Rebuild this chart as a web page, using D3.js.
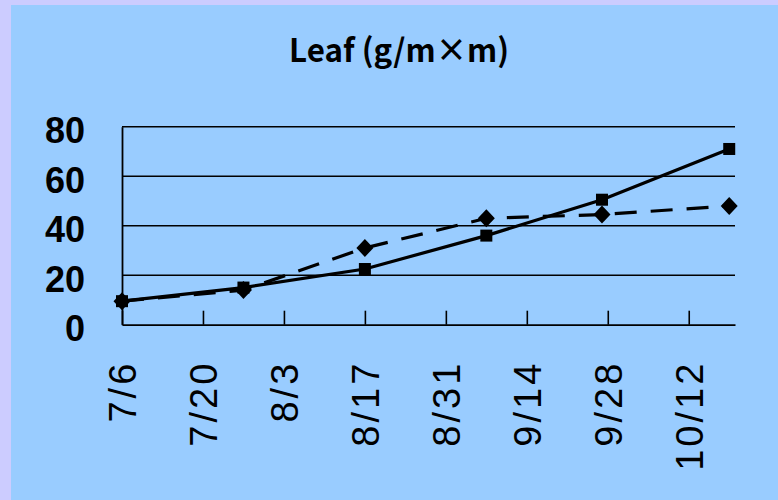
<!DOCTYPE html>
<html>
<head>
<meta charset="utf-8">
<script src="https://cdn.jsdelivr.net/npm/d3@7"></script>
<style>
  html, body { margin: 0; padding: 0; background: #ccccff; }
  svg { display: block; }
</style>
</head>
<body>
<svg id="chart" width="778" height="500"></svg>
<script>
// Sampling dates and leaf biomass (g/m×m) for two plots
const sampleDates = ["7/6", "7/27", "8/17", "9/7", "9/27", "10/19"];
const seriesSolid = [9.5, 15, 22.5, 36, 50.5, 71];
const seriesDashed = [9.5, 14, 31, 43, 44.5, 48];

// Axis settings
const tickLabels = ["7/6", "7/20", "8/3", "8/17", "8/31", "9/14", "9/28", "10/12"];
const yTicks = [0, 20, 40, 60, 80];
const axisStart = "7/6";
const axisEnd = "10/20";
const chartTitle = "Leaf (g/m×m)";

const parse = d3.timeParse("%m/%d");

const svg = d3.select("#chart");
const W = 778, H = 500;
const plot = { left: 122, right: 735, top: 126.7, bottom: 324.7 };

// Blue chart area inside the lavender frame
svg.append("rect")
  .attr("x", 11).attr("y", 5)
  .attr("width", W - 11).attr("height", H - 5)
  .attr("fill", "#99ccff");

const x = d3.scaleTime()
  .domain([parse(axisStart), parse(axisEnd)])
  .range([plot.left, plot.right]);

const y = d3.scaleLinear()
  .domain([0, 80])
  .range([plot.bottom, plot.top]);

// Title
svg.append("text")
  .attr("x", 399).attr("y", 62)
  .attr("text-anchor", "middle")
  .attr("textLength", 220)
  .attr("lengthAdjust", "spacingAndGlyphs")
  .style("font-family", "'Noto Sans CJK JP', 'Noto Sans', sans-serif")
  .style("font-weight", "bold")
  .style("font-size", "32px")
  .attr("fill", "#000")
  .text(chartTitle);

// Horizontal gridlines
svg.append("g")
  .selectAll("line")
  .data(yTicks.filter(d => d > 0))
  .join("line")
  .attr("x1", plot.left).attr("x2", plot.right)
  .attr("y1", d => y(d)).attr("y2", d => y(d))
  .attr("stroke", "#000")
  .attr("stroke-width", 1.4);

// Y axis with large bold labels
const yAxis = d3.axisLeft(y).tickValues(yTicks).tickSize(0).tickPadding(37);
const gy = svg.append("g")
  .attr("transform", `translate(${plot.left},0)`)
  .call(yAxis);
gy.select(".domain").attr("stroke", "#000").attr("stroke-width", 1.8);
gy.selectAll("text")
  .attr("dy", "0.45em")
  .style("font-family", "'Liberation Sans', Arial, sans-serif")
  .style("font-weight", "bold")
  .style("font-size", "36px")
  .attr("fill", "#000");

// X axis: inward tick marks, labels rotated
const tickDates = tickLabels.map(parse);
const xAxis = d3.axisTop(x)
  .tickValues(tickDates)
  .tickSize(14)
  .tickSizeOuter(0)
  .tickFormat((d, i) => tickLabels[i]);
const gx = svg.append("g")
  .attr("transform", `translate(0,${plot.bottom})`)
  .call(xAxis);
gx.select(".domain").attr("stroke", "#000").attr("stroke-width", 1.8);
gx.selectAll(".tick line").attr("stroke", "#000").attr("stroke-width", 1.6);
gx.selectAll("text")
  .attr("transform", "translate(0,36) rotate(-90)")
  .attr("x", 0).attr("y", 0)
  .attr("dy", "0.36em")
  .attr("text-anchor", "end")
  .style("font-family", "'Liberation Sans', Arial, sans-serif")
  .style("font-size", "38px")
  .style("letter-spacing", "3px")
  .attr("fill", "#000");

// Series lines
const pts = vals => sampleDates.map((d, i) => ({ date: parse(d), v: vals[i] }));
const line = d3.line().x(d => x(d.date)).y(d => y(d.v));

svg.append("path")
  .datum(pts(seriesSolid))
  .attr("d", line)
  .attr("fill", "none")
  .attr("stroke", "#000")
  .attr("stroke-width", 3.2);

svg.append("path")
  .datum(pts(seriesDashed))
  .attr("d", line)
  .attr("fill", "none")
  .attr("stroke", "#000")
  .attr("stroke-width", 3.2)
  .attr("stroke-dasharray", "22,14");

// Markers: squares for the solid series, diamonds for the dashed series
svg.append("g")
  .selectAll("rect")
  .data(pts(seriesSolid))
  .join("rect")
  .attr("x", d => x(d.date) - 6).attr("y", d => y(d.v) - 6)
  .attr("width", 12).attr("height", 12)
  .attr("fill", "#000");

svg.append("g")
  .selectAll("path")
  .data(pts(seriesDashed))
  .join("path")
  .attr("transform", d => `translate(${x(d.date)},${y(d.v)})`)
  .attr("d", "M0,-9L8.5,0L0,9L-8.5,0Z")
  .attr("fill", "#000");
</script>
</body>
</html>
